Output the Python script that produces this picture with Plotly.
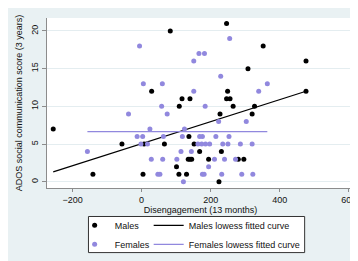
import plotly.graph_objects as go

# ---- data ----
male_x = [246, 83, 352, 476, 308, 29, 249, 476, 117, 140, 246, 256, 109, 265, 327,
          227, 320, -256, 137, -57, 7, 66, 152, 168, 231, 135, 140, 145, 194, 280, 296,
          101, -141, 4, 108, 130, 224]
male_y = [21, 20, 18, 16, 15, 12, 12, 12, 11, 11, 11, 11, 10, 10, 10,
          9, 9, 7, 6, 5, 5, 5, 5, 4, 4, 3, 3, 3, 3, 3, 3,
          2, 1, 1, 1, 1, 0]

female_x = [255, -6, 166, 182, 151, 229, 5, 60, 364, 151, 339, 58, 184, -38, 74,
            223, 303, 24, 124, -13, 3, 63, 118, 168, 176, 215, 253,
            -2, 17, 163, 174, 185, 197, 235, 250, 286, 320,
            -157, 114, 144, 28, 61, 102, 211, 240, 272, 194,
            47, 53, 176, 181, 232, 290, 322, 121]
female_y = [19, 18, 17, 17, 16, 14, 13, 13, 13, 12, 12, 10, 10, 9, 9,
            8, 8, 7, 7, 6, 6, 6, 6, 6, 6, 6, 6,
            5, 5, 5, 5, 5, 5, 5, 5, 5, 5,
            4, 4, 4, 3, 3, 3, 3, 3, 3, 2,
            1, 1, 1, 1, 1, 1, 1, 0]

male_fit_x = [-256, 476]
male_fit_y = [1.3, 12.0]
female_fit_x = [-157, 364]
female_fit_y = [6.65, 6.65]

x_ticks = [-200, 0, 200, 400, 600]
y_ticks = [0, 5, 10, 15, 20]

BLACK = "#000000"
PURPLE = "#9188de"
BG = "#e9f1f3"
AXIS = "#8c8c8c"
FONT = "Liberation Sans, Arial, sans-serif"

fig = go.Figure()
fig.add_trace(go.Scatter(x=male_x, y=male_y, mode="markers", name="Males",
                         marker=dict(color=BLACK, size=5), legend="legend"))
fig.add_trace(go.Scatter(x=male_fit_x, y=male_fit_y, mode="lines",
                         name="Males lowess fitted curve",
                         line=dict(color=BLACK, width=1.2), legend="legend2"))
fig.add_trace(go.Scatter(x=female_x, y=female_y, mode="markers", name="Females",
                         marker=dict(color=PURPLE, size=5), legend="legend"))
fig.add_trace(go.Scatter(x=female_fit_x, y=female_fit_y, mode="lines",
                         name="Females lowess fitted curve",
                         line=dict(color=PURPLE, width=1.2), legend="legend2"))

W, H = 358, 261
ml, mr, mt, mb = 36, 11, 10, 72
pw, ph = W - ml - mr, H - mt - mb

def px_x(p):
    return (p - ml) / pw

def px_y(p):
    return (H - mb - p) / ph

fig.update_layout(
    width=W, height=H,
    margin=dict(l=ml, r=mr, t=mt, b=mb),
    paper_bgcolor=BG, plot_bgcolor="white",
    font=dict(family=FONT, size=9, color="#111111"),
    xaxis=dict(range=[-274, 615], tickvals=x_ticks, ticks="outside", ticklen=3,
               tickcolor=AXIS, tickwidth=1, showline=True, linecolor=AXIS, linewidth=1.2,
               showgrid=False, zeroline=False,
               title=dict(text="Disengagement (13 months)", standoff=1,
                          font=dict(size=9))),
    yaxis=dict(range=[-0.83, 21.72], tickvals=y_ticks, tickangle=-90, ticks="outside",
               ticklen=4, tickcolor=AXIS, tickwidth=1, showline=True, linecolor=AXIS,
               linewidth=1.2, showgrid=True, gridcolor="#e4edf0", gridwidth=1,
               zeroline=False,
               title=dict(text="ADOS social communication score (3 years)", standoff=6,
                          font=dict(size=9))),
    legend=dict(x=px_x(64), y=px_y(213), xanchor="left", yanchor="top",
                bgcolor="rgba(0,0,0,0)", borderwidth=0, font=dict(size=9)),
    legend2=dict(x=px_x(139), y=px_y(213), xanchor="left", yanchor="top",
                 bgcolor="rgba(0,0,0,0)", borderwidth=0, font=dict(size=9)),
    shapes=[dict(type="rect", xref="paper", yref="paper",
                 x0=px_x(78), x1=px_x(297), y0=px_y(219), y1=px_y(257),
                 fillcolor="white", line=dict(color="#333333", width=1), layer="below")],
    showlegend=True,
)

fig.write_html("out.html")
